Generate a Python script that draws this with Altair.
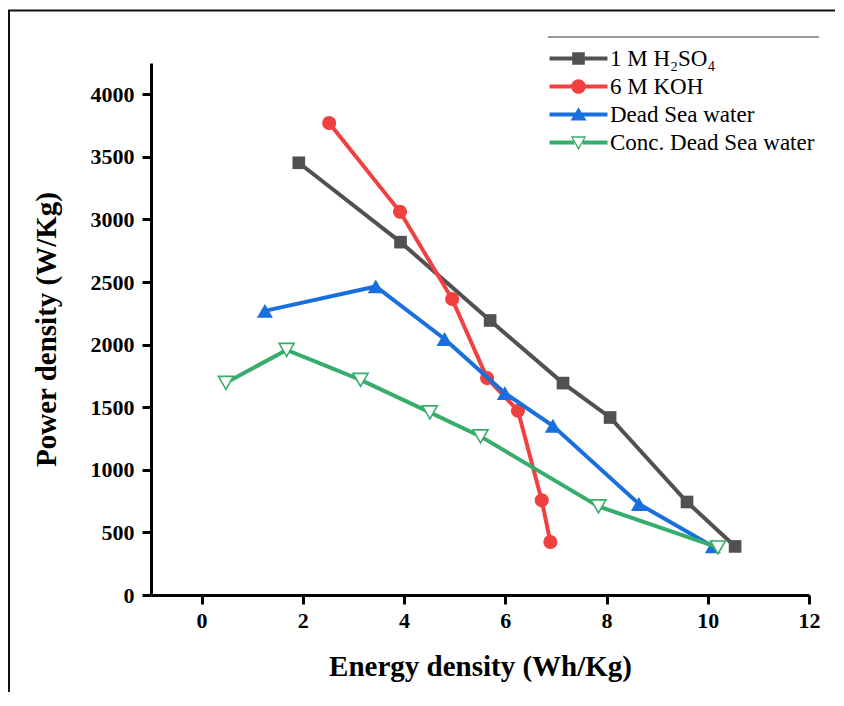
import altair as alt
import pandas as pd

series_names = ["1 M H\u2082SO\u2084", "6 M KOH", "Dead Sea water", "Conc. Dead Sea water"]
colors = ["#515151", "#F14040", "#1A6FDF", "#37AD6B"]

h2so4_x = [1.92, 3.93, 5.70, 7.14, 8.07, 9.59, 10.54]
h2so4_y = [3453, 2819, 2193, 1693, 1418, 743, 388]
koh_x = [2.52, 3.92, 4.95, 5.64, 6.25, 6.72, 6.89]
koh_y = [3770, 3061, 2364, 1733, 1472, 756, 423]
dsw_x = [1.25, 3.44, 4.80, 5.99, 6.94, 8.64, 10.10]
dsw_y = [2270, 2465, 2045, 1613, 1352, 727, 388]
cdsw_x = [0.48, 1.68, 3.14, 4.51, 5.51, 7.84, 10.20]
cdsw_y = [1695, 1958, 1719, 1459, 1267, 708, 380]

x_ticks = [0, 2, 4, 6, 8, 10, 12]
y_ticks = [0, 500, 1000, 1500, 2000, 2500, 3000, 3500, 4000]

all_x = [h2so4_x, koh_x, dsw_x, cdsw_x]
all_y = [h2so4_y, koh_y, dsw_y, cdsw_y]
rows = []
for name, xs, ys in zip(series_names, all_x, all_y):
    for i, (a, b) in enumerate(zip(xs, ys)):
        rows.append({"series": name, "order": i, "energy": a, "power": b})
df = pd.DataFrame(rows)

xscale = alt.Scale(domain=[-1, 12], nice=False, zero=False)
yscale = alt.Scale(domain=[0, 4250], nice=False, zero=False)

X = alt.X("energy:Q", scale=xscale,
          axis=alt.Axis(values=x_ticks, title="Energy density (Wh/Kg)", format="d"))
Y = alt.Y("power:Q", scale=yscale,
          axis=alt.Axis(values=y_ticks, title="Power density (W/Kg)", format="d"))

marker_shapes = ["square", "circle", "triangle-up", "triangle-down"]
marker_sizes = [160, 200, 256, 225]

layers = []
# outer frame
frame = alt.Chart(pd.DataFrame({"a": [0]})).mark_rect(
    fillOpacity=0, stroke="#111111", strokeWidth=2
).encode(x=alt.value(-142), x2=alt.value(800), y=alt.value(-52.6), y2=alt.value(760))
layers.append(frame)

# top line of legend
legend_line = alt.Chart(pd.DataFrame({"a": [0]})).mark_rule(
    color="#333333", strokeWidth=1
).encode(x=alt.value(397), x2=alt.value(668), y=alt.value(-26))
layers.append(legend_line)

for i, name in enumerate(series_names):
    base = alt.Chart(df).transform_filter(alt.datum.series == name)
    line = base.mark_line(color=colors[i], strokeWidth=4).encode(
        x=X, y=Y, order="order:Q")
    if i == 3:
        pts = base.mark_point(shape=marker_shapes[i], size=marker_sizes[i], filled=True,
                              fill="white", stroke=colors[i], strokeWidth=1.6, opacity=1)
    else:
        pts = base.mark_point(shape=marker_shapes[i], size=marker_sizes[i], filled=True,
                              color=colors[i], opacity=1)
    pts = pts.encode(x=X, y=Y)
    layers.extend([line, pts])

legend_paths = [
    "M-4.14,-0.29H4.14V0.29H-4.14Z M-0.9,-0.9H0.9V0.9H-0.9Z",
    "M-4.14,-0.29H4.14V0.29H-4.14Z M-1.05,0A1.05,1.05 0 1,1 1.05,0A1.05,1.05 0 1,1 -1.05,0Z",
    "M-4.14,-0.29H4.14V0.29H-4.14Z M0,-1.05L1.14,0.85H-1.14Z",
    "M-4.14,-0.29H-0.62V0.29H-4.14Z M0.62,-0.29H4.14V0.29H0.62Z "
    "M-1.1,-0.9L1.1,-0.9L0,1.1Z M-0.8,-0.68L0,0.68L0.8,-0.68Z",
]

legend_layer = alt.Chart(df).transform_filter("false").mark_point(
    filled=True, opacity=1
).encode(
    color=alt.Color("series:N", scale=alt.Scale(domain=series_names, range=colors),
                    legend=alt.Legend(title=None, orient="none", legendX=397, legendY=-16,
                                      symbolSize=196, symbolStrokeWidth=0, symbolOffset=19,
                                      labelOffset=20, labelFont="Liberation Serif",
                                      labelFontSize=23, labelColor="black", labelLimit=0,
                                      rowPadding=4, padding=0, symbolOpacity=1)),
    shape=alt.Shape("series:N", scale=alt.Scale(domain=series_names, range=legend_paths)),
)
layers.append(legend_layer)

chart = alt.layer(*layers).properties(
    width=658, height=532,
    padding={"left": 143, "top": 55, "right": 26, "bottom": 97},
    autosize=alt.AutoSizeParams(type="none"),
).configure_view(strokeWidth=0).configure_axis(
    grid=False, labelFlush=False,
    domainColor="black", domainWidth=3,
    tickColor="black", tickWidth=3, tickSize=9,
    labelFont="Liberation Serif", labelFontWeight="bold", labelFontSize=22, labelColor="black",
    titleFont="Liberation Serif", titleFontWeight="bold", titleFontSize=29, titleColor="black",
).configure_axisX(labelPadding=6, titlePadding=21).configure_axisY(labelPadding=8, titlePadding=29)

chart.save("out.html", embed_options={"renderer": "svg", "actions": False})
